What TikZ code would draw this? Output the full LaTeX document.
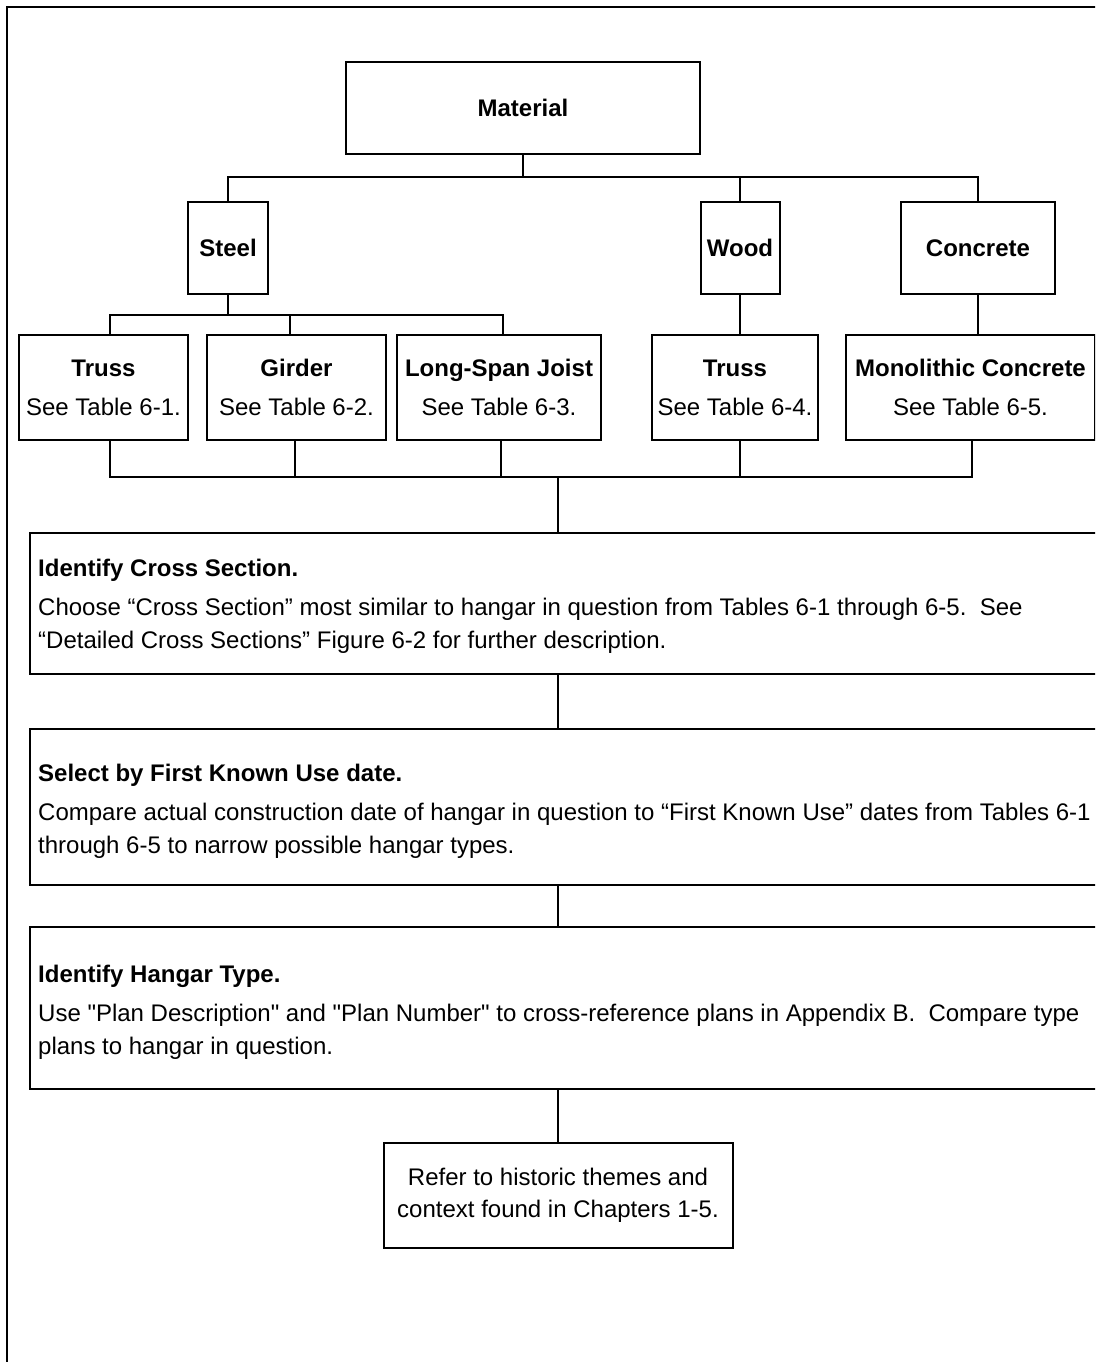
\documentclass[tikz,border=0pt]{standalone}
\usepackage{fontspec}
\setmainfont{Liberation Sans}[Ligatures=TeXOff]
\begin{document}
\begin{tikzpicture}[x=1pt,y=-1pt,
  box/.style={draw, line width=2pt, inner sep=0pt, align=center, font=\fontsize{24}{39}\selectfont},
  conn/.style={line width=2pt},
  thin/.style={line width=1.6pt},
  bar/.style={line width=2.4pt},
  txt/.style={inner sep=0pt, align=left, anchor=west, font=\fontsize{24}{33}\selectfont}]
\useasboundingbox (0,0) rectangle (1095,1362);
\begin{scope}
\clip (0,0) rectangle (1095,1362);
% frame
\draw[line width=2.2pt] (7,1380) -- (7,7) -- (1110,7);
% level 1
\node[box, minimum width=354pt, minimum height=92pt] (mat) at (523,108) {\bfseries Material};
% level 2
\node[box, minimum width=80pt, minimum height=92pt] (steel) at (228,248) {\bfseries Steel};
\node[box, minimum width=79pt, minimum height=92pt] (wood) at (740,248) {\bfseries Wood};
\node[box, minimum width=154pt, minimum height=92pt] (conc) at (978,248) {\bfseries Concrete};
% level 3
\node[box, minimum width=169pt, minimum height=105pt] (t1) at (103.5,387.5) {\textbf{Truss}\\See Table 6-1.};
\node[box, minimum width=179pt, minimum height=105pt] (gird) at (296.5,387.5) {\textbf{Girder}\\See Table 6-2.};
\node[box, minimum width=204pt, minimum height=105pt] (lsj) at (499,387.5) {\textbf{Long-Span Joist}\\See Table 6-3.};
\node[box, minimum width=166pt, minimum height=105pt] (t2) at (735,387.5) {\textbf{Truss}\\See Table 6-4.};
\node[box, minimum width=249pt, minimum height=105pt] (mono) at (970.5,387.5) {\textbf{Monolithic Concrete}\\See Table 6-5.};
% big boxes
\node[box, minimum width=1090pt, minimum height=141pt, anchor=north west] (cross) at (29,532) {};
\node[txt, yshift=-3pt] (crosst) at ([xshift=9pt]cross.west) {\textbf{Identify Cross Section.}\\[6pt]Choose “Cross Section” most similar to hangar in question from Tables 6-1 through 6-5.\ \ See\\“Detailed Cross Sections” Figure 6-2 for further description.};
\node[box, minimum width=1090pt, minimum height=156pt, anchor=north west] (sel) at (29,728) {};
\node[txt, yshift=-4pt] (selt) at ([xshift=9pt]sel.west) {\textbf{Select by First Known Use date.}\\[6pt]Compare actual construction date of hangar in question to “First Known Use” dates from Tables 6-1\\through 6-5 to narrow possible hangar types.};
\node[box, minimum width=1090pt, minimum height=162pt, anchor=north west] (hang) at (29,926) {};
\node[txt, yshift=-4pt] (hangt) at ([xshift=9pt]hang.west) {\textbf{Identify Hangar Type.}\\[6pt]Use "Plan Description" and "Plan Number" to cross-reference plans in Appendix B.\ \ Compare type\\plans to hangar in question.};
\node[box, minimum width=349pt, minimum height=105pt, font=\fontsize{24}{32}\selectfont] (refer) at (558,1195.5) {Refer to historic themes and\\context found in Chapters 1-5.};
% connectors level 1 -> 2
\coordinate (j1) at (523,177);
\draw[conn] (mat.south) -- (j1);
\draw[bar] (steel.north) |- (j1) -| (conc.north);
\draw[conn] (wood.north) -- (wood.north |- j1);
% steel -> level 3
\coordinate (sj) at (228,315);
\coordinate (sL) at (110,315);
\coordinate (sM) at (290,315);
\coordinate (sR) at (503,315);
\draw[conn] (steel.south) -- (sj);
\draw[thin] (sL |- t1.north) -- (sL) -- (sR) -- (sR |- lsj.north);
\draw[thin] (sM) -- (sM |- gird.north);
\draw[conn] (wood.south) -- (wood.south |- t2.north);
\draw[bar] (conc.south) -- (conc.south |- mono.north);
% bottom bar
\coordinate (bL) at (110,477);
\coordinate (b2) at (295,477);
\coordinate (b3) at (501,477);
\coordinate (b4) at (740,477);
\coordinate (bR) at (972,477);
\coordinate (spine) at (558,477);
\draw[bar] (bL |- t1.south) -- (bL) -- (bR) -- (bR |- mono.south);
\draw[conn] (b2 |- gird.south) -- (b2);
\draw[conn] (b3 |- lsj.south) -- (b3);
\draw[conn] (b4 |- t2.south) -- (b4);
\draw[conn] (spine) -- (spine |- cross.north);
\draw[conn] (spine |- cross.south) -- (spine |- sel.north);
\draw[conn] (spine |- sel.south) -- (spine |- hang.north);
\draw[conn] (spine |- hang.south) -- (refer.north);
\end{scope}
\end{tikzpicture}
\end{document}
